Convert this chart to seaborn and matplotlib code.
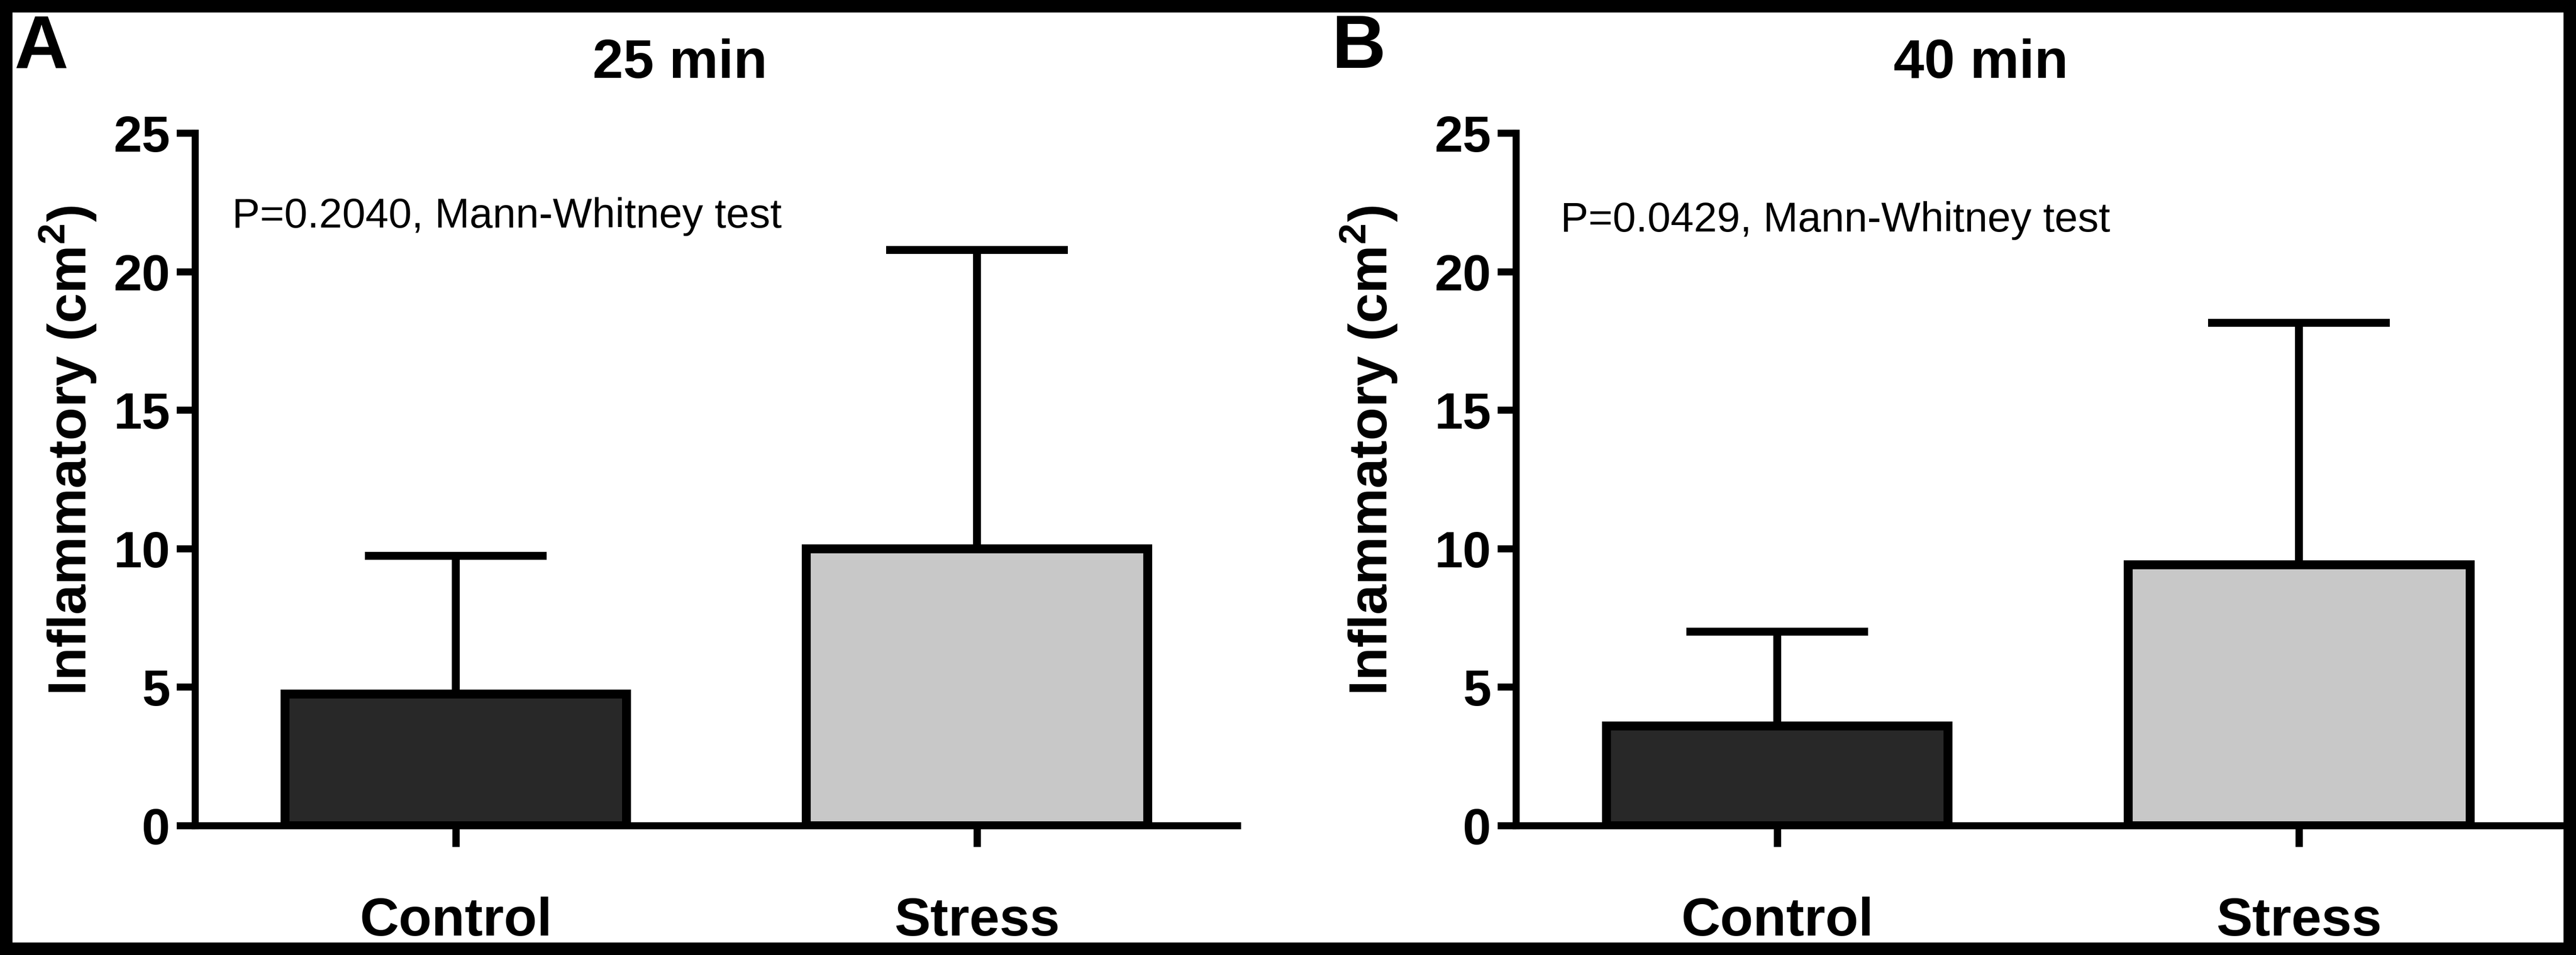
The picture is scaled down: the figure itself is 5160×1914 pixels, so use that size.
import matplotlib
matplotlib.use("Agg")
import matplotlib.pyplot as plt
from matplotlib.patches import Rectangle
import seaborn as sns

# values
groups = ["Control", "Stress"]
mean_25 = [4.76, 9.99]
sd_25 = [4.99, 10.80]
mean_40 = [3.60, 9.42]
sd_40 = [3.40, 8.73]
titles = ["25 min", "40 min"]
pvals = ["P=0.2040, Mann-Whitney test", "P=0.0429, Mann-Whitney test"]
letters = ["A", "B"]
bar_colors = ["#282828", "#c8c8c8"]

sns.set_style("ticks")
plt.rcParams['font.family'] = ['Liberation Sans', 'DejaVu Sans']
plt.rcParams['mathtext.fontset'] = 'custom'
plt.rcParams['mathtext.rm'] = 'Liberation Sans'
plt.rcParams['mathtext.bf'] = 'Liberation Sans:bold'
plt.rcParams['text.color'] = 'black'
plt.rcParams['axes.labelcolor'] = 'black'

fig = plt.figure(figsize=(17.2, 6.38), dpi=300)
ax_a = fig.add_axes([0.0758, 0.1353, 0.4047, 0.7252])
ax_b = fig.add_axes([0.5886, 0.1353, 0.4052, 0.7252])

panels = [
    (ax_a, mean_25, sd_25, 0, 0.465, -0.093, -0.429, 22.0, 28 / 5160),
    (ax_b, mean_40, sd_40, 1, 0.445, -0.112, -0.415, 21.85, 2668 / 5160),
]

for ax, means, sds, i, tx, lx, px, py, letx in panels:
    ax.errorbar([0, 1], means, yerr=[[0, 0], sds], fmt='none', ecolor='black',
                elinewidth=3.8, capsize=43.7, capthick=3.8, zorder=1)
    sns.barplot(x=groups, y=means, hue=groups, palette=bar_colors, legend=False,
                edgecolor='black', linewidth=4.3, width=0.655, errorbar=None,
                ax=ax, zorder=2)
    ax.set_xlim(-0.5, 1.5)
    ax.set_ylim(0, 25)
    ax.set_yticks([0, 5, 10, 15, 20, 25])
    for side in ['top', 'right']:
        ax.spines[side].set_visible(False)
    for side in ['left', 'bottom']:
        ax.spines[side].set_linewidth(3.4)
        ax.spines[side].set_color('black')
    ax.tick_params(axis='y', length=9, width=3.4, pad=3, labelsize=24.5,
                   colors='black')
    ax.tick_params(axis='x', length=10, width=3.5, pad=24, labelsize=26,
                   colors='black')
    for lab in ax.get_xticklabels() + ax.get_yticklabels():
        lab.set_fontweight('bold')
    ax.set_xlabel('')
    ax.set_ylabel(r'Inflammatory (cm$^{\mathbf{2}}$)', fontsize=26,
                  fontweight='bold', color='black')
    ax.yaxis.set_label_coords(lx, 0.542)
    ax.text(tx, 1.10, titles[i], transform=ax.transAxes, ha='center',
            va='center', fontsize=26.5, fontweight='bold', color='black')
    ax.text(px, py, pvals[i], ha='left', va='center', fontsize=20,
            color='black')
    fig.text(letx, 1 - 136 / 1914, letters[i], ha='left', va='baseline',
             fontsize=36, fontweight='bold', color='black')

fig.add_artist(Rectangle((0, 0), 1, 1, transform=fig.transFigure, fill=False,
                         edgecolor='black', linewidth=12))

fig.savefig("out.png", dpi=300, facecolor='white')
